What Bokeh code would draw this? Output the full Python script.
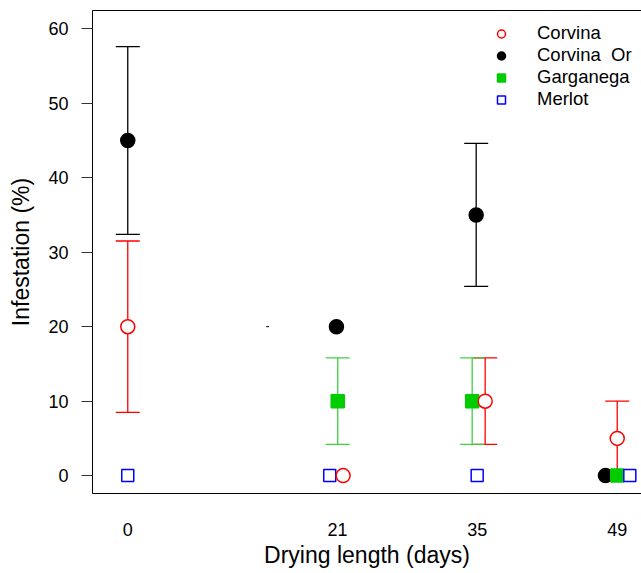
from bokeh.plotting import figure
from bokeh.models import (Range1d, FixedTicker, LinearAxis, Legend, LegendItem,
                          Whisker, TeeHead, ColumnDataSource)
from bokeh.embed import file_html
from bokeh.resources import INLINE

NaN = float("nan")

# ---- data ----
days = [0, 21, 35, 49]
x_tick_labels = ["0", "21", "35", "49"]
y_ticks = [0, 10, 20, 30, 40, 50, 60]

corvina = [20, 0, 10, 5]
corvina_err = [11.5, 0, 5.8, 5.0]
corvina_dx = [0, 0.56, 0.78, 0]

corvina_or = [45, 20, 35, 0]
corvina_or_err = [12.6, 0, 9.6, 0]
corvina_or_dx = [0, -0.11, -0.12, -1.18]

garganega = [NaN, 10, 10, 0]
garganega_err = [0, 5.8, 5.8, 0]
garganega_dx = [0, 0.02, -0.52, 0]

merlot = [0, 0, 0, 0]
merlot_err = [0, 0, 0, 0]
merlot_dx = [0, -0.78, -0.02, 1.26]

stray_x = [14]
stray_y = [20]

FONT = "Liberation Sans"

p = figure(width=641, height=573, output_backend="svg", toolbar_location=None,
           x_range=Range1d(-3.53, 51.43), y_range=Range1d(-2.40, 62.45),
           min_border_left=92, min_border_right=0, min_border_top=10,
           min_border_bottom=80)
p.outline_line_color = None
p.xgrid.visible = False
p.ygrid.visible = False
p.background_fill_color = "white"
p.border_fill_color = "white"

# y axis
ya = p.yaxis[0]
ya.ticker = FixedTicker(ticks=y_ticks)
ya.major_tick_out = 11
ya.major_tick_in = 0
ya.minor_tick_out = 0
ya.minor_tick_in = 0
ya.major_tick_line_color = "#333333"
ya.axis_line_color = "black"
ya.major_label_standoff = 13
ya.major_label_text_font = FONT
ya.major_label_text_font_size = "18px"
ya.major_label_text_color = "black"
ya.axis_label = "Infestation (%)"
ya.axis_label_text_font = FONT
ya.axis_label_text_font_size = "23px"
ya.axis_label_text_font_style = "normal"
ya.axis_label_text_color = "black"
ya.axis_label_standoff = 11

# x axis
xa = p.xaxis[0]
xa.ticker = FixedTicker(ticks=days)
xa.major_label_overrides = {d: t for d, t in zip(days, x_tick_labels)}
xa.major_tick_out = 0
xa.major_tick_in = 0
xa.minor_tick_out = 0
xa.minor_tick_in = 0
xa.axis_line_color = "black"
xa.major_label_standoff = 29
xa.major_label_text_font = FONT
xa.major_label_text_font_size = "18px"
xa.major_label_text_color = "black"
xa.axis_label = "Drying length (days)"
xa.axis_label_text_font = FONT
xa.axis_label_text_font_size = "23px"
xa.axis_label_text_font_style = "normal"
xa.axis_label_text_color = "black"
xa.axis_label_standoff = 3

# top border
top = LinearAxis(ticker=FixedTicker(ticks=[]), major_tick_out=0, major_tick_in=0,
                 minor_tick_out=0, minor_tick_in=0, major_label_standoff=0,
                 axis_label_standoff=0, axis_line_color="black")
p.add_layout(top, "above")

series = [
    dict(name="Corvina", y=corvina, err=corvina_err, dx=corvina_dx, marker="circle",
         size=14, fill="white", line="#FF0000", bar="#FF0000"),
    dict(name="Corvina  Or", y=corvina_or, err=corvina_or_err, dx=corvina_or_dx,
         marker="circle", size=14, fill="black", line="black", bar="black"),
    dict(name="Garganega", y=garganega, err=garganega_err, dx=garganega_dx,
         marker="square", size=13, fill="#00CD00", line="#00CD00", bar="#3FD03F"),
    dict(name="Merlot", y=merlot, err=merlot_err, dx=merlot_dx, marker="square",
         size=12, fill="white", line="#0000FF", bar="#0000FF"),
]

# error bars
for s in series:
    xs = [d + o for d, o in zip(days, s["dx"])]
    base, up, lo = [], [], []
    for x, v, e in zip(xs, s["y"], s["err"]):
        if e > 0 and v == v:
            base.append(x)
            up.append(v + e)
            lo.append(v - e)
    if base:
        src = ColumnDataSource(dict(base=base, upper=up, lower=lo))
        w = Whisker(source=src, base="base", upper="upper", lower="lower",
                    dimension="height", line_color=s["bar"], line_width=1.3,
                    upper_head=TeeHead(size=24, line_color=s["bar"], line_width=1.3),
                    lower_head=TeeHead(size=24, line_color=s["bar"], line_width=1.3))
        p.add_layout(w)

renderers = {}
draw_order = ["Corvina  Or", "Garganega", "Merlot", "Corvina"]
for name in draw_order:
    s = next(t for t in series if t["name"] == name)
    xs = [d + o for d, o in zip(days, s["dx"])]
    r = p.scatter(xs, s["y"], marker=s["marker"], size=s["size"],
                  fill_color=s["fill"], line_color=s["line"], line_width=1.5)
    renderers[name] = r

p.scatter(stray_x, stray_y, marker="dash", size=3, line_color="black", line_width=1)

legend = Legend(items=[LegendItem(label=s["name"], renderers=[renderers[s["name"]]])
                       for s in series],
                location=(399, 382.7), border_line_alpha=0, background_fill_alpha=0,
                padding=0, margin=0, spacing=0, glyph_width=20, glyph_height=21,
                label_height=21, label_standoff=26, label_text_font=FONT,
                label_text_font_size="18.5px", label_text_color="black")
p.add_layout(legend)

open("out.html", "w").write(file_html(p, INLINE))
